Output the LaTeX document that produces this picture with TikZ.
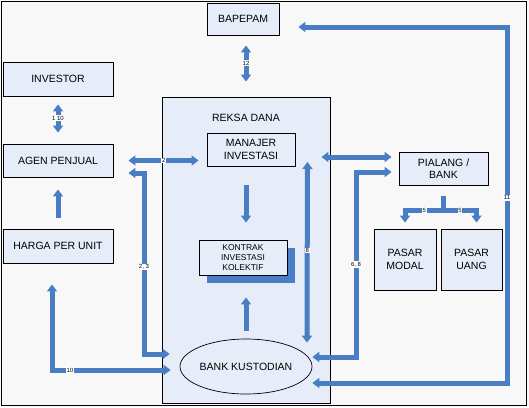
\documentclass[tikz,border=0pt]{standalone}
\usepackage{fontspec}
\setmainfont{Liberation Sans}
\usetikzlibrary{arrows.meta,shapes.geometric,shadows}
\definecolor{bgray}{HTML}{F8F8F8}
\definecolor{boxblue}{HTML}{E6EDF8}
\definecolor{flowblue}{HTML}{4A7EC4}
\tikzset{
  kotak/.style={draw, line width=0.9pt, fill=boxblue, align=center, inner sep=0pt,
    font=\fontsize{10.5}{12.5}\selectfont},
  alir/.style={draw=flowblue, line width=5pt},
  satu/.style={alir, -{Triangle[width=10pt,length=7pt]}},
  dua/.style={alir, {Triangle[width=10pt,length=7pt]}-{Triangle[width=10pt,length=7pt]}},
  nomor/.style={fill=white, inner sep=0.6pt, text=black, font=\fontsize{6}{6}\selectfont},
}
\begin{document}
\begin{tikzpicture}[x=1pt,y=-1pt]
  \useasboundingbox (0,0) rectangle (529,407);
  \fill[bgray] (0,0) rectangle (529,407);
  \draw[line width=1pt] (1.5,1.5) rectangle (526.5,405.5);

  % kotak-kotak
  \node[kotak, minimum width=168pt, minimum height=306pt] (reksa) at (246,250) {};
  \node[font=\fontsize{10.5}{12.5}\selectfont] (reksalbl) at (246,118) {REKSA DANA};
  \node[kotak, minimum width=72pt, minimum height=32pt] (bapepam) at (243,19) {BAPEPAM};
  \node[kotak, minimum width=110pt, minimum height=34pt] (investor) at (58,79) {INVESTOR};
  \node[kotak, minimum width=110pt, minimum height=33pt] (agen) at (58,160.5) {AGEN PENJUAL};
  \node[kotak, minimum width=110pt, minimum height=34pt] (harga) at (58,246) {HARGA PER UNIT};
  \node[kotak, minimum width=88pt, minimum height=33pt] (manajer) at (251,149.5) {MANAJER\\INVESTASI};
  \node[kotak, minimum width=88pt, minimum height=35pt, font=\fontsize{8.5}{10}\selectfont,
    drop shadow={shadow xshift=8pt, shadow yshift=-8pt, fill=flowblue, opacity=1}]
    (kontrak) at (243,257.5) {KONTRAK\\INVESTASI\\KOLEKTIF};
  \node[kotak, ellipse, line width=0.7pt, minimum width=132pt, minimum height=55pt] (bank) at (246,366.5) {BANK KUSTODIAN};
  \node[kotak, minimum width=89pt, minimum height=33pt] (pialang) at (443.5,168.5) {PIALANG /\\BANK};
  \node[kotak, minimum width=62pt, minimum height=61pt] (modal) at (405,259.5) {PASAR\\MODAL};
  \node[kotak, minimum width=61pt, minimum height=61pt] (uang) at (471.5,259.5) {PASAR\\UANG};

  % alur
  \draw[dua, shorten <=10pt, shorten >=15pt] (bapepam.south -| reksa.north) -- node[nomor, pos=.45] (n12) {12} (reksa.north);
  \draw[dua, shorten <=8pt, shorten >=11pt] (investor.south) -- node[nomor, pos=.46] (n110) {1 10} (agen.north);
  \draw[dua, shorten <=15pt, shorten >=8pt] (agen.east) -- node[nomor, pos=.54] (n2) {2} (agen.east -| manajer.west);
  \draw[satu, shorten <=11pt, shorten >=12pt] (harga.north) -- (agen.south);

  \coordinate (t23) at (144,354);
  \draw[dua, shorten <=15pt, shorten >=10pt] ([yshift=-12.5pt]agen.east) -| node[nomor, pos=.76] (n23) {2, 3} (t23) -- (bank.west |- t23);
  \coordinate (t10) at (52,370);
  \draw[dua, shorten <=21pt, shorten >=9pt] ([xshift=-6pt]harga.south) |- node[nomor, pos=.57] (n10) {10} (bank.west |- t10);

  \draw[satu, shorten <=19pt, shorten >=17pt] (manajer.south -| reksa.center) -- (kontrak.north -| reksa.center);
  \draw[satu, shorten <=8pt, shorten >=22pt] (bank.north) -- (kontrak.south -| bank.north);
  \draw[dua] ([shift={(12pt,-12.5pt)}]manajer.east) -- node[nomor, pos=.49] (n8) {8} ([shift={(61pt,-4pt)}]bank.north);

  \draw[dua, shorten <=26pt, shorten >=7pt] ([yshift=-7.5pt]manajer.east) -- ([yshift=11.5pt]pialang.west);
  \coordinate (t68) at (356,357);
  \draw[dua, shorten <=7pt] ([yshift=-3.5pt]pialang.west) -| node[nomor, pos=.75] (n68) {6, 8} (t68) -- (bank.east |- t68);

  \coordinate (bagi) at (443.5,210);
  \draw[alir, shorten <=11pt] (pialang.south) -- (bagi);
  \draw[satu, shorten >=6pt] (bagi) -| node[nomor, pos=.25] (n5a) {5} (modal.north);
  \draw[satu, shorten >=6pt] (bagi) -| node[nomor, pos=.25] (n5b) {5} ([xshift=5pt]uang.north);

  \coordinate (t11) at (507,383);
  \draw[dua, shorten <=19pt] ([yshift=-8pt]bapepam.east) -| node[nomor, pos=.74] (n11) {11} (t11) -- (bank.east |- t11);
\end{tikzpicture}
\end{document}
